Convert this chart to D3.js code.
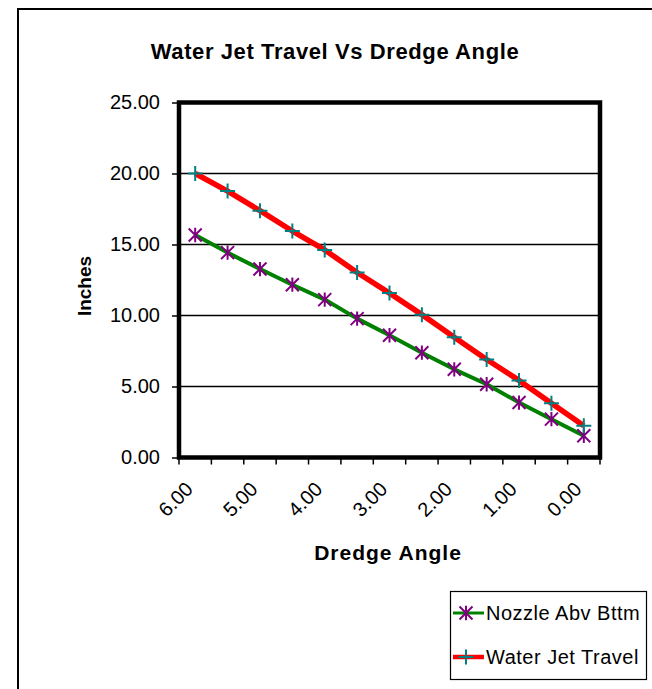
<!DOCTYPE html>
<html>
<head>
<meta charset="utf-8">
<script src="https://cdn.jsdelivr.net/npm/d3@7"></script>
<style>
  body { margin: 0; background: #fff; }
  svg text { font-family: Arial, "Liberation Sans", sans-serif; fill: #000; }
</style>
</head>
<body>
<div id="chart"></div>
<script>
// values
var dredgeAngle    = [6.0, 5.5, 5.0, 4.5, 4.0, 3.5, 3.0, 2.5, 2.0, 1.5, 1.0, 0.5, 0.0];
var nozzleAbvBttm  = [15.67, 14.43, 13.27, 12.17, 11.12, 9.78, 8.61, 7.38, 6.21, 5.16, 3.87, 2.70, 1.53];
var waterJetTravel = [20.00, 18.76, 17.38, 15.95, 14.62, 13.03, 11.58, 10.06, 8.47, 6.90, 5.43, 3.82, 2.23];
var yTickValues    = [0, 5, 10, 15, 20, 25];
var xLabelValues   = [6, 5, 4, 3, 2, 1, 0];
var seriesNames    = ["Nozzle Abv Bttm", "Water Jet Travel"];

var width = 652, height = 689;
var plot = { left: 179, right: 600, top: 102.5, bottom: 457.5 };

var svg = d3.select("#chart").append("svg")
    .attr("width", width)
    .attr("height", height);

// chart object frame (runs off the right and bottom edges)
svg.append("rect")
    .attr("x", 18).attr("y", 9)
    .attr("width", 800).attr("height", 800)
    .attr("fill", "none")
    .attr("stroke", "#000")
    .attr("stroke-width", 2);

var x = d3.scaleBand()
    .domain(d3.range(dredgeAngle.length))
    .range([plot.left, plot.right])
    .paddingInner(0).paddingOuter(0);

var y = d3.scaleLinear()
    .domain([0, 25])
    .range([plot.bottom, plot.top]);

var cx = function(i) { return x(i) + x.bandwidth() / 2; };

// title
svg.append("text")
    .attr("x", 335).attr("y", 59)
    .attr("text-anchor", "middle")
    .style("font-size", "22px")
    .style("font-weight", "bold")
    .style("letter-spacing", "0.6px")
    .text("Water Jet Travel Vs Dredge Angle");

// gridlines
svg.append("g")
    .selectAll("line")
    .data(yTickValues.filter(function(d) { return d > 0 && d < 25; }))
    .enter().append("line")
    .attr("x1", plot.left).attr("x2", plot.right)
    .attr("y1", function(d) { return y(d); })
    .attr("y2", function(d) { return y(d); })
    .attr("stroke", "#000")
    .attr("stroke-width", 1.3);

// y axis
var yAxis = svg.append("g")
    .attr("transform", "translate(" + plot.left + ",0)")
    .call(d3.axisLeft(y)
        .tickValues(yTickValues)
        .tickFormat(d3.format(".2f"))
        .tickSize(7)
        .tickPadding(12));
yAxis.select(".domain").remove();
yAxis.selectAll(".tick line").attr("stroke", "#000").attr("stroke-width", 1.5);
yAxis.selectAll(".tick text")
    .style("font-size", "20px")
    .style("font-family", "Arial, 'Liberation Sans', sans-serif");

// x axis tick marks between categories
var boundaries = d3.range(dredgeAngle.length + 1);
svg.append("g")
    .selectAll("line")
    .data(boundaries)
    .enter().append("line")
    .attr("x1", function(i) { return i < dredgeAngle.length ? x(i) : plot.right; })
    .attr("x2", function(i) { return i < dredgeAngle.length ? x(i) : plot.right; })
    .attr("y1", plot.bottom)
    .attr("y2", plot.bottom + 7)
    .attr("stroke", "#000")
    .attr("stroke-width", 1.5);

// x axis labels, every other category
var labelIdx = dredgeAngle.map(function(d, i) { return i; })
    .filter(function(i) { return xLabelValues.indexOf(dredgeAngle[i]) >= 0; });
svg.append("g")
    .selectAll("text")
    .data(labelIdx)
    .enter().append("text")
    .attr("transform", function(i) {
        return "translate(" + (cx(i) - 1) + "," + (plot.bottom + 33) + ") rotate(-45)";
    })
    .attr("text-anchor", "end")
    .style("font-size", "20px")
    .text(function(i) { return d3.format(".2f")(dredgeAngle[i]); });

// plot area border
svg.append("rect")
    .attr("x", plot.left).attr("y", plot.top)
    .attr("width", plot.right - plot.left)
    .attr("height", plot.bottom - plot.top)
    .attr("fill", "none")
    .attr("stroke", "#000")
    .attr("stroke-width", 4.5);

// axis titles
svg.append("text")
    .attr("transform", "translate(84,286) rotate(-90)")
    .attr("text-anchor", "middle")
    .attr("dominant-baseline", "central")
    .style("font-size", "19px")
    .style("font-weight", "bold")
    .text("Inches");

svg.append("text")
    .attr("x", 388).attr("y", 560)
    .attr("text-anchor", "middle")
    .style("font-size", "21px")
    .style("font-weight", "bold")
    .style("letter-spacing", "1px")
    .text("Dredge Angle");

// markers
function starPath(r) {
    return "M" + (-r) + "," + (-r) + "L" + r + "," + r +
           "M" + (-r) + "," + r + "L" + r + "," + (-r) +
           "M0," + (-r * 1.1) + "L0," + (r * 1.1);
}
function plusPath(r) {
    return "M" + (-r) + ",0L" + r + ",0M0," + (-r) + "L0," + r;
}

var series = [
    { name: seriesNames[0], values: nozzleAbvBttm, color: "#008000", width: 4, marker: starPath(6.5), markerColor: "#800080" },
    { name: seriesNames[1], values: waterJetTravel, color: "#ff0000", width: 5.5, marker: plusPath(7.5), markerColor: "#008080" }
];

var line = d3.line()
    .x(function(d, i) { return cx(i); })
    .y(function(d) { return y(d); });

series.forEach(function(s) {
    svg.append("path")
        .datum(s.values)
        .attr("d", line)
        .attr("fill", "none")
        .attr("stroke", s.color)
        .attr("stroke-width", s.width)
        .attr("stroke-linejoin", "round");
    svg.append("g")
        .selectAll("path")
        .data(s.values)
        .enter().append("path")
        .attr("transform", function(d, i) { return "translate(" + cx(i) + "," + y(d) + ")"; })
        .attr("d", s.marker)
        .attr("fill", "none")
        .attr("stroke", s.markerColor)
        .attr("stroke-width", 2);
});

// legend
var legend = svg.append("g");
legend.append("rect")
    .attr("x", 450.5).attr("y", 591.5)
    .attr("width", 196).attr("height", 88)
    .attr("fill", "#fff")
    .attr("stroke", "#000")
    .attr("stroke-width", 1.2);

var rowY = [613, 657];
series.forEach(function(s, k) {
    var g = legend.append("g").attr("transform", "translate(0," + rowY[k] + ")");
    g.append("line")
        .attr("x1", 453).attr("x2", 484)
        .attr("y1", 0).attr("y2", 0)
        .attr("stroke", s.color)
        .attr("stroke-width", s.width - 1);
    g.append("path")
        .attr("transform", "translate(466,0)")
        .attr("d", s.marker)
        .attr("fill", "none")
        .attr("stroke", s.markerColor)
        .attr("stroke-width", 2);
    g.append("text")
        .attr("x", 486).attr("y", 0)
        .attr("dominant-baseline", "central")
        .style("font-size", "20px")
        .style("letter-spacing", "0.5px")
        .text(s.name);
});
</script>
</body>
</html>
